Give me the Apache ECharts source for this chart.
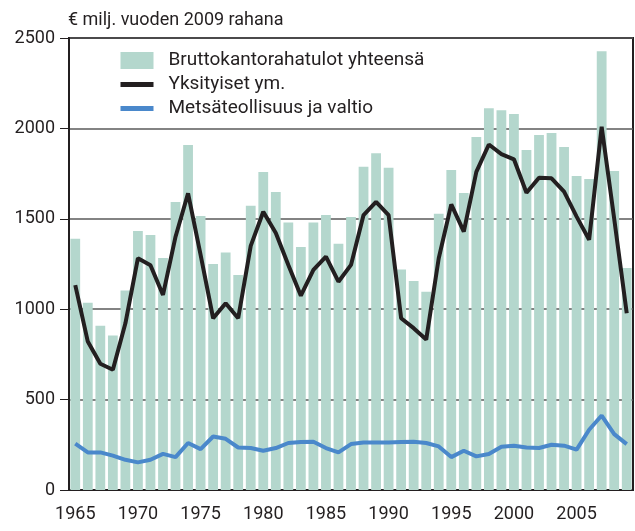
<!DOCTYPE html>
<html>
<head>
<meta charset="utf-8">
<script src="https://cdn.jsdelivr.net/npm/echarts@6/dist/echarts.min.js"></script>
<style>
  html, body { margin: 0; padding: 0; background: #fff; }
  #chart { width: 635px; height: 531px; }
</style>
</head>
<body>
<div id="chart"></div>
<script>
// vuodet 1965-2009
var years = [];
for (var y = 1965; y <= 2009; y++) years.push(String(y));

// Bruttokantorahatulot yhteensä
var total = [
  1390, 1035, 908, 855, 1103, 1432, 1410, 1283, 1593, 1908,
  1515, 1250, 1313, 1189, 1572, 1759, 1648, 1479, 1344, 1479,
  1521, 1362, 1510, 1788, 1863, 1782, 1219, 1156, 1096, 1528,
  1770, 1643, 1952, 2112, 2101, 2079, 1880, 1963, 1974, 1897,
  1737, 1720, 2427, 1764, 1228
];

// Yksityiset ym.
var private_ = [
  1133, 821, 698, 665, 922, 1282, 1243, 1079, 1401, 1641,
  1300, 950, 1033, 950, 1350, 1539, 1421, 1245, 1075, 1217,
  1291, 1152, 1245, 1521, 1594, 1521, 950, 895, 832, 1282,
  1580, 1429, 1760, 1911, 1858, 1829, 1644, 1727, 1724, 1650,
  1512, 1384, 2009, 1500, 978
];

// Metsäteollisuus ja valtio
var industry = [
  256, 208, 208, 190, 167, 153, 167, 200, 182, 260,
  226, 296, 283, 235, 232, 217, 232, 260, 265, 267,
  232, 208, 254, 263, 263, 263, 265, 267, 260, 241,
  182, 217, 186, 199, 239, 245, 235, 232, 250, 245,
  223, 333, 412, 309, 254
];

var yTicks = [0, 500, 1000, 1500, 2000, 2500];

var font = "Roboto, sans-serif";
var ink = "#231f20";
var blue = "#4a88cb";

var chart = echarts.init(document.getElementById("chart"));
chart.setOption({
  animation: false,
  textStyle: { fontFamily: font, color: ink },
  title: {
    text: "€ milj. vuoden 2009 rahana",
    left: 63,
    top: 6,
    textStyle: { fontFamily: font, fontSize: 18, fontWeight: "normal", color: ink },
  },
  legend: {
    orient: "vertical",
    left: 118,
    top: 51,
    padding: 0,
    itemWidth: 33,
    itemHeight: 17,
    itemGap: 5,
    textStyle: { fontFamily: font, fontSize: 19, color: ink, padding: [0, 0, 0, 10] },
    data: [
      { name: "Bruttokantorahatulot yhteensä", icon: "rect" },
      { name: "Yksityiset ym.", itemStyle: { opacity: 0 }, lineStyle: { width: 5 } },
      { name: "Metsäteollisuus ja valtio", itemStyle: { opacity: 0 }, lineStyle: { width: 5 } },
    ],
  },
  grid: {
    left: 69,
    right: 2,
    top: 38,
    bottom: 41,
    show: true,
    borderColor: ink,
    borderWidth: 2,
  },
  xAxis: [
    {
      type: "category",
      data: years,
      axisLine: { lineStyle: { color: ink, width: 2 } },
      axisTick: { alignWithLabel: true, interval: 0, length: 5, lineStyle: { color: ink } },
      axisLabel: { interval: 4, fontFamily: font, fontSize: 18, color: ink, margin: 15 },
    },
    {
      type: "category",
      data: years,
      position: "bottom",
      axisLine: { show: false },
      axisTick: { alignWithLabel: true, interval: 4, length: 9, lineStyle: { color: ink } },
      axisLabel: { show: false },
    },
  ],
  yAxis: {
    type: "value",
    min: yTicks[0],
    max: yTicks[yTicks.length - 1],
    interval: 500,
    axisLine: { show: true, lineStyle: { color: ink, width: 2 } },
    axisTick: { show: true, length: 9, lineStyle: { color: ink } },
    axisLabel: {
      fontFamily: font,
      fontSize: 18,
      color: ink,
      margin: 14,
      formatter: function (v) {
        return String(v);
      },
    },
    splitLine: { lineStyle: { color: "#5a5a5a", width: 1.5 } },
  },
  series: [
    {
      name: "Bruttokantorahatulot yhteensä",
      type: "bar",
      data: total,
      barCategoryGap: "22%",
      itemStyle: { color: "#b4d7cd" },
    },
    {
      name: "Yksityiset ym.",
      type: "line",
      data: private_,
      symbol: "none",
      lineStyle: { color: ink, width: 4 },
      itemStyle: { color: ink },
    },
    {
      name: "Metsäteollisuus ja valtio",
      type: "line",
      data: industry,
      symbol: "none",
      lineStyle: { color: blue, width: 4 },
      itemStyle: { color: blue },
    },
  ],
});
</script>
</body>
</html>
